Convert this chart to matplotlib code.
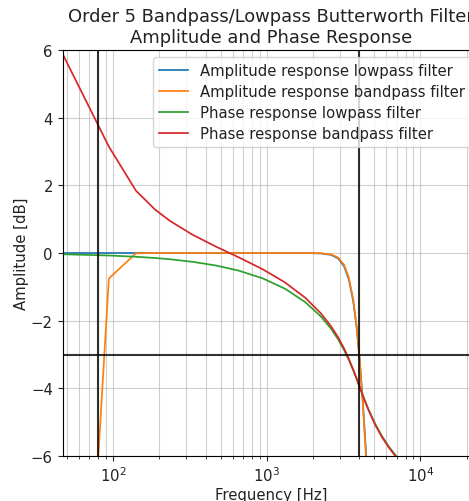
import matplotlib
matplotlib.use("Agg")
import matplotlib.pyplot as plt

# frequencies [Hz] (freqz grid, 46.875 Hz spacing at the low end)
freq = [46.875, 93.75, 140.625, 187.5, 234.375, 328.125, 468.75, 656.25, 937.5,
        1312.5, 1781.25, 2250, 2625, 2906.25, 3187.5, 3421.875, 3656.25, 3843.75,
        4031.25, 4218.75, 4406.25, 4593.75, 5062.5, 5625, 6234.375, 6890.625, 7593.75]

# amplitude [dB]
amp_lp = [0.0, 0.0, 0.0, 0.0, 0.0, 0.0, 0.0, 0.0, 0.0,
          0.0, -0.002, -0.012, -0.056, -0.157, -0.393, -0.783, -1.435, -2.199,
          -3.191, -4.392, -5.760, -7.246, -11.20, -15.95, -20.81, -25.72, -30.63]
amp_bp = [-23.80, -0.756, -0.010, 0.0, 0.0, 0.0, 0.0, 0.0, 0.0,
          0.0, -0.001, -0.007, -0.042, -0.130, -0.350, -0.729, -1.386, -2.170,
          -3.198, -4.450, -5.877, -7.425, -11.40, -16.37, -21.34, -26.31, -31.28]

# phase [rad]
ph_lp = [-0.037, -0.074, -0.111, -0.148, -0.185, -0.260, -0.371, -0.521, -0.747,
         -1.054, -1.453, -1.876, -2.243, -2.543, -2.868, -3.162, -3.470, -3.721,
         -3.968, -4.203, -4.422, -4.622, -5.038, -5.415, -5.723, -5.979, -6.198]
ph_bp = [5.884, 3.146, 1.844, 1.283, 0.948, 0.542, 0.185, -0.127, -0.477,
         -0.868, -1.324, -1.783, -2.171, -2.484, -2.824, -3.130, -3.451, -3.712,
         -3.969, -4.213, -4.439, -4.643, -5.067, -5.445, -5.752, -6.008, -6.225]

f_low = 80
f_high = 4000

plt.rcParams['font.size'] = 10.75
plt.rcParams['text.color'] = '#222222'
plt.rcParams['axes.labelcolor'] = '#222222'
plt.rcParams['xtick.color'] = '#222222'
plt.rcParams['ytick.color'] = '#222222'
fig = plt.figure(figsize=(4.69, 5.02), dpi=100)
ax = fig.add_axes([62.6 / 469, 45 / 502, 416.2 / 469, 406 / 502])

lw = 1.25
ax.semilogx(freq, amp_lp, lw=lw, label="Amplitude response lowpass filter")
ax.semilogx(freq, amp_bp, lw=lw, label="Amplitude response bandpass filter")
ax.semilogx(freq, ph_lp, lw=lw, label="Phase response lowpass filter")
ax.semilogx(freq, ph_bp, lw=lw, label="Phase response bandpass filter")

ax.axvline(f_low, color='k', alpha=0.8)
ax.axvline(f_high, color='k', alpha=0.8)
ax.axhline(-3, color='k', alpha=0.8)

ax.set_xlim(46.875, 24000)
ax.set_ylim(-6, 6)
ax.grid(which='both', color='#b0b0b0', alpha=0.6)
ax.set_title("Order 5 Bandpass/Lowpass Butterworth Filter\nAmplitude and Phase Response",
             fontsize=12.85)
ax.set_xlabel("Frequency [Hz]", labelpad=1.5)
ax.set_ylabel("Amplitude [dB]", labelpad=1)
ax.legend(loc='upper right', labelspacing=0.4)

fig.savefig("out.png", dpi=100)
